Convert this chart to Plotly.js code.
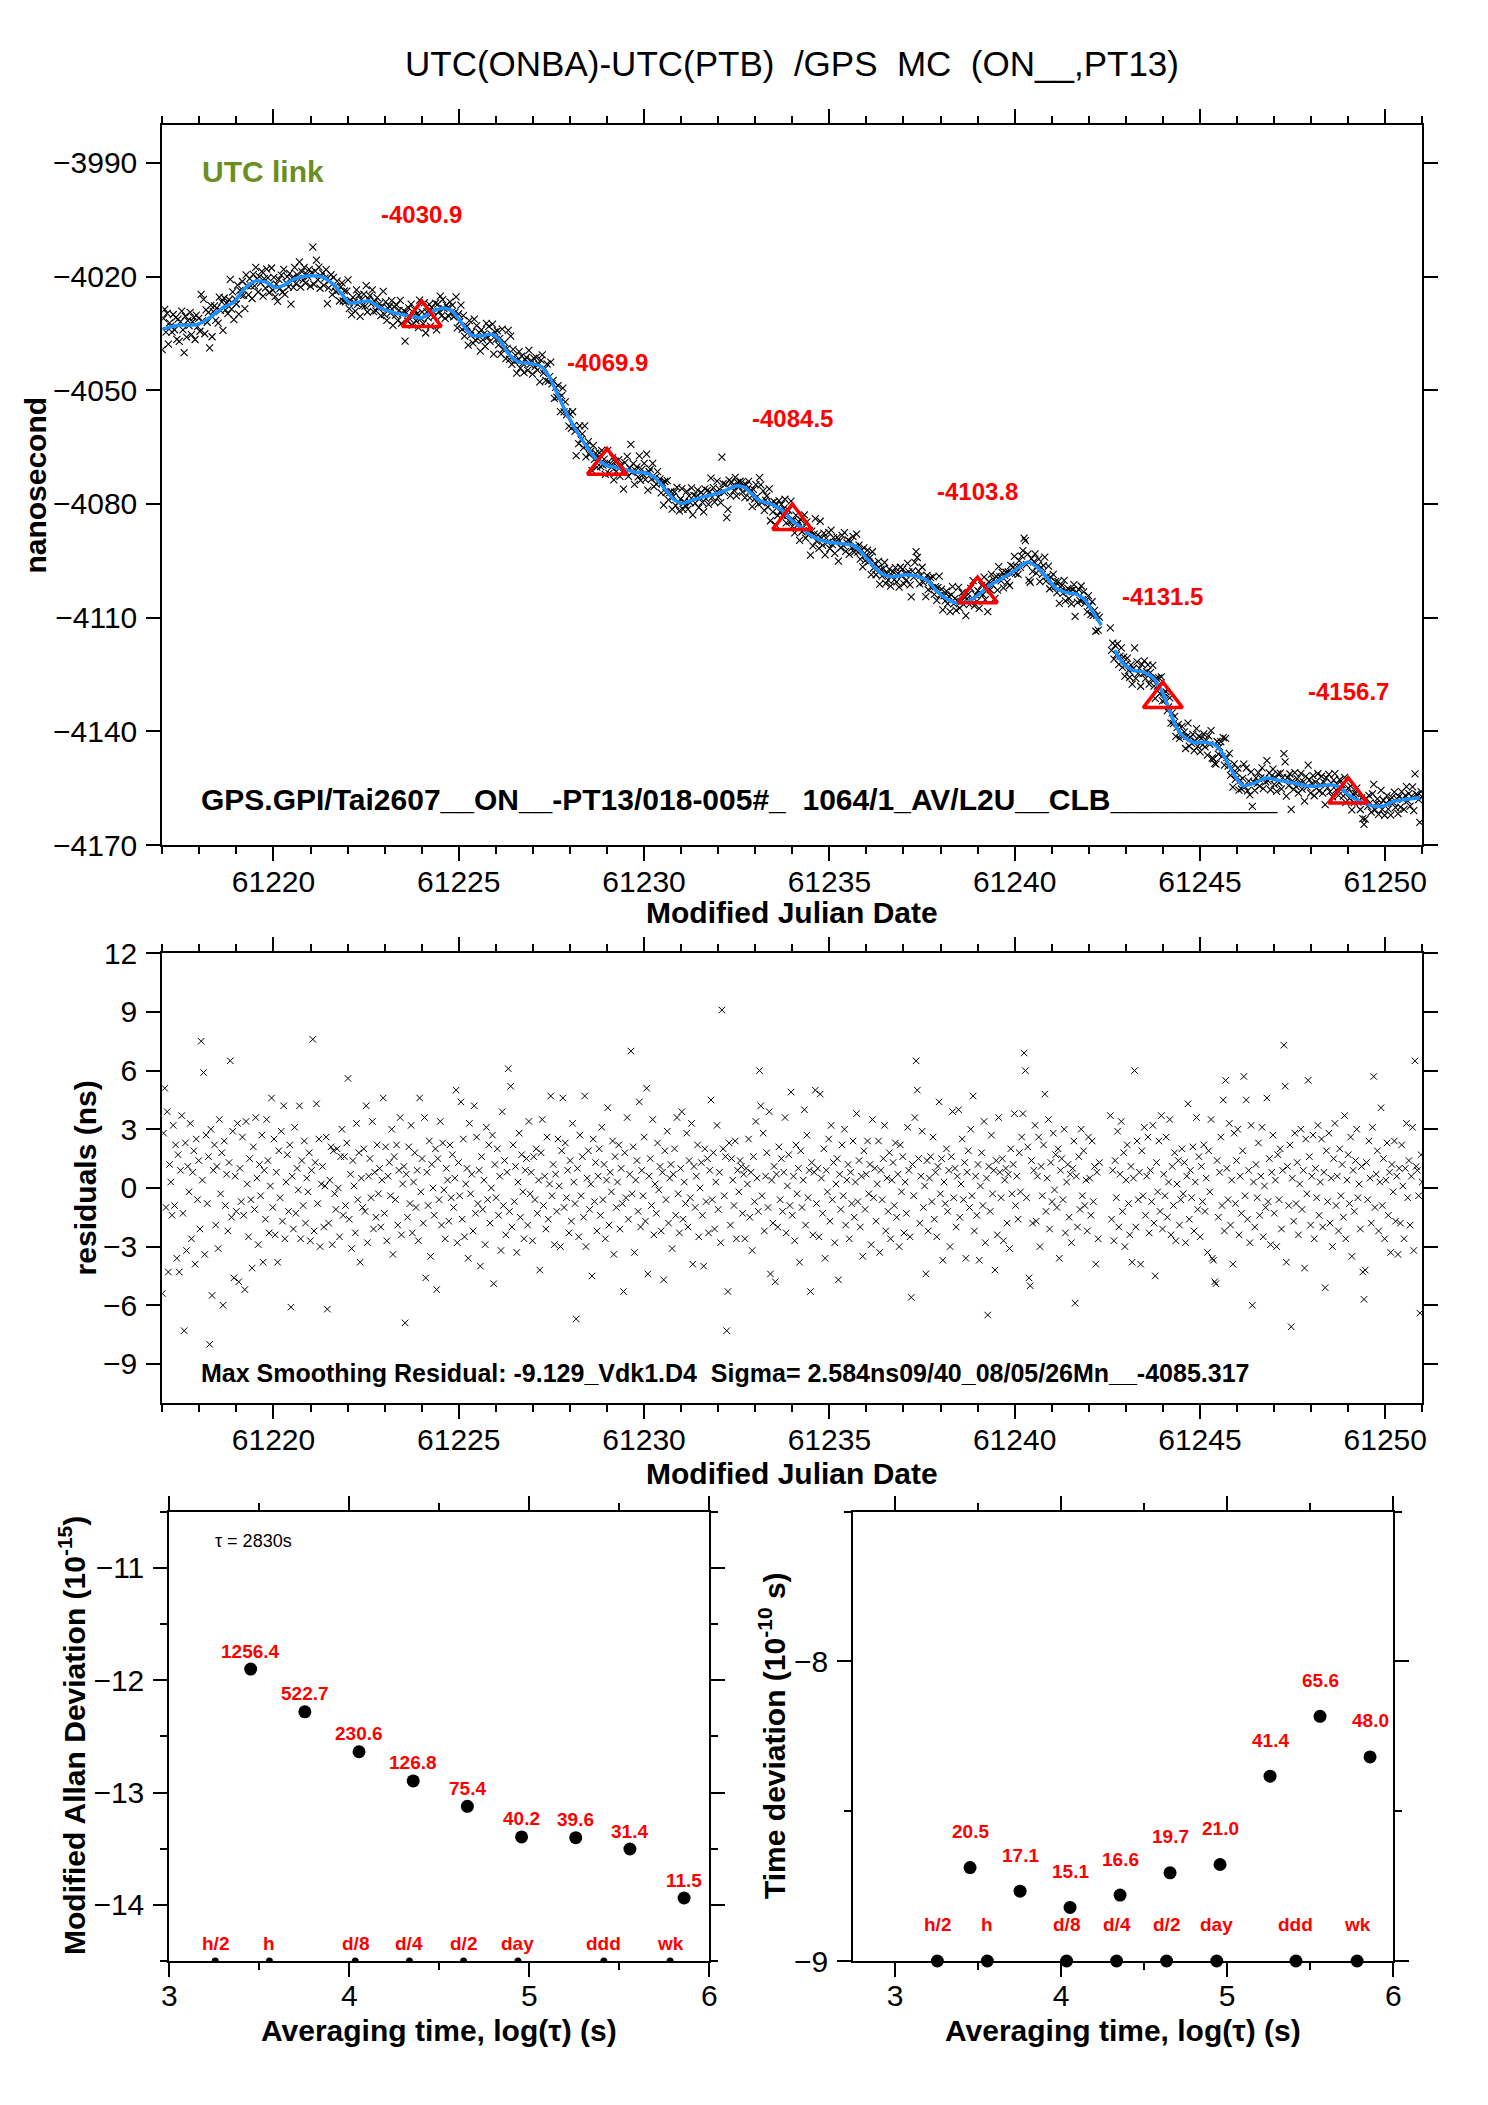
<!DOCTYPE html>
<html><head><meta charset="utf-8">
<script src="https://cdn.plot.ly/plotly-3.0.1.min.js"></script>
<style>html,body{margin:0;padding:0;background:#fff}#chart{width:1488px;height:2105px}</style>
</head><body><div id="chart"></div>
<script>
// ================= DATA =================
// sampling of the link (tau0 = 2830 s)
const firstSampleMjd = 61217.0;
const sampleStepSec = 2830;

// residuals (ns), one value per sample (null = no data)
const residualsNs = [
-5.4,2.8,5.1,-1.0,3.9,-4.3,1.2,0.3,-1.4,3.2,-0.9,2.2,-3.6,1.7,-4.3,0.9,3.7,-1.3,-7.3,2.3,-3.2,1.1,-0.2,3.3,-2.6,0.8,1.9,-3.9,2.5,-0.6,
1.4,-2.1,7.5,0.4,5.9,-3.4,2.7,-0.8,1.6,-8.0,3.0,-5.5,0.9,2.2,-1.9,1.1,-3.1,3.5,-0.3,1.8,-6.0,2.4,-0.9,0.7,-2.2,1.3,6.5,-1.5,2.9,-4.6,
0.6,-1.2,3.3,-4.8,1.0,-0.7,2.6,-1.4,-5.2,3.4,0.2,-2.5,1.5,-0.6,-4.1,2.1,-1.1,3.6,0.5,-2.9,1.2,-0.4,2.7,-3.8,0.9,-1.6,3.5,1.4,-2.3,0.1,
4.6,-1.0,2.5,-2.4,0.8,-3.8,1.9,-0.5,2.9,-1.7,4.2,-2.6,0.3,1.7,-1.2,2.2,-6.1,0.6,-2.1,3.1,-1.3,1.0,-0.1,4.2,-2.6,1.4,-0.9,2.4,-1.8,0.5,
-0.2,1.8,-2.7,0.9,7.6,-2.2,1.3,4.3,-0.8,2.5,-3.0,0.2,1.1,-2.0,0.1,2.6,-6.2,-1.8,0.4,2.1,-2.9,1.9,-0.3,-1.1,2.0,0.0,-2.5,1.6,3.0,-1.4,
1.6,-0.9,2.3,5.6,-1.6,0.7,-3.1,1.4,0.1,-2.3,3.3,-0.6,1.8,-3.8,0.5,-1.0,2.0,-1.2,4.2,-2.8,0.6,1.5,-0.5,3.4,-2.1,0.8,-1.5,2.2,-0.3,1.0,
-2.0,0.4,4.6,-1.3,2.1,-2.7,0.6,1.3,-0.4,3.0,-3.4,1.6,-0.6,2.2,-1.9,0.9,3.6,-2.4,0.2,1.1,-6.9,0.7,-1.5,2.1,-0.8,3.2,-2.3,0.3,1.8,-1.0,
0.9,-2.7,4.6,-0.2,1.5,-1.8,3.6,-4.6,0.8,-0.9,2.4,-3.5,1.2,0.0,-1.4,2.0,-5.2,1.5,-0.6,3.4,-1.9,2.3,-0.1,-2.6,1.0,0.4,-1.7,2.2,-0.5,1.7,
-1.0,0.5,5.0,-2.8,1.3,-0.4,4.4,-1.6,2.5,-2.5,0.2,1.0,-3.6,3.3,-0.3,0.7,-2.2,4.2,-1.3,2.6,-0.8,0.9,-4.0,1.6,-1.1,0.4,-2.9,3.1,-0.6,2.2,
-1.8,0.0,2.7,-4.9,1.2,-0.5,2.0,-1.4,0.6,-3.2,3.9,-0.9,1.4,-2.4,0.8,6.1,-1.2,5.2,-2.0,2.2,-0.7,1.1,-3.3,0.3,2.8,-1.5,1.7,-0.2,-2.6,0.9,
1.5,-1.9,3.4,-0.3,0.8,-2.7,1.6,-0.6,2.0,-1.3,0.4,-4.2,1.8,3.5,-0.9,0.6,-2.1,2.6,-1.6,0.2,4.7,-0.4,1.2,-2.9,0.7,-1.2,2.5,0.1,-3.0,1.9,
4.6,-1.0,2.3,-0.5,0.9,-2.3,1.4,-1.7,3.3,0.3,-0.8,-6.7,1.0,-2.5,2.7,-0.4,1.6,-1.5,4.7,-3.0,0.5,1.9,-1.1,0.2,-4.5,2.5,-0.7,1.3,-2.2,0.6,
2.0,-1.4,3.1,-0.6,1.2,-2.6,0.4,4.1,-1.9,0.8,-0.2,2.4,-3.4,1.6,-1.0,0.3,2.2,-2.1,1.0,-0.8,-5.3,1.8,-0.5,3.6,-1.6,0.7,7.0,-0.3,2.1,-3.3,
0.4,1.4,-1.2,4.4,-2.0,0.9,-0.4,2.6,-1.7,5.1,-4.4,0.6,1.5,-0.9,3.5,-2.4,0.2,-1.3,2.3,-0.1,1.1,-2.2,0.8,-4.7,1.9,-0.6,2.9,-1.8,0.5,1.2,
-3.1,0.7,2.0,-1.4,3.6,-0.3,-2.3,1.0,3.9,-1.6,0.3,-0.8,2.8,-2.0,1.4,-0.5,3.3,-3.9,1.1,-1.0,0.6,2.2,-2.5,0.0,1.3,-1.4,-4.0,2.0,-0.7,1.5,
-2.3,0.9,4.5,-0.6,1.8,-2.1,0.3,3.2,-1.1,0.8,-2.8,9.1,2.0,-0.4,1.6,-7.3,-5.3,2.3,-1.9,1.5,0.4,-0.9,2.4,-2.6,0.9,-0.2,1.4,1.1,-1.3,0.7,
-2.6,1.0,0.2,2.5,-1.5,0.8,-3.2,1.6,-0.7,3.4,0.5,-1.2,6.0,4.2,-0.4,2.8,-2.2,0.6,1.8,-1.0,3.9,-4.4,0.4,-1.8,1.1,-4.8,0.7,-2.0,2.1,-0.6,
1.5,-1.2,0.8,3.6,-2.3,0.1,1.7,-0.9,4.9,-1.4,0.6,-2.7,2.2,-0.3,1.0,-3.8,1.9,-1.0,0.4,4.0,-1.9,2.7,-0.5,0.9,-5.3,1.3,-2.4,0.8,5.0,-0.8,
1.0,-2.5,4.8,0.5,-1.3,2.0,-3.6,0.9,-0.2,2.5,-1.7,3.2,-0.6,1.3,-2.8,0.2,1.5,-4.7,0.7,-1.1,2.2,-0.4,3.0,-1.9,0.4,1.2,-2.6,0.8,-0.8,2.4,
-1.5,0.3,3.8,-0.7,1.4,-2.0,0.6,-3.5,1.9,-1.1,0.7,2.4,-0.3,1.2,-2.9,3.5,-0.5,1.0,-1.7,0.2,2.4,-3.3,0.9,-0.6,1.5,3.2,-2.2,0.5,-1.2,1.8,
-2.6,0.4,1.3,-0.9,2.3,-1.5,0.7,-3.0,2.2,-0.2,1.6,-2.3,0.3,-1.3,3.1,0.9,-2.5,-5.6,1.2,-0.4,3.6,6.5,5.0,1.5,-1.8,0.6,2.9,-1.0,0.1,-4.4,
1.4,-2.2,0.5,1.6,-0.7,2.6,-1.6,0.8,-2.5,1.1,4.4,-0.3,1.5,-3.7,0.3,-0.8,2.0,-1.2,0.9,-3.0,1.6,3.9,-0.5,1.0,-2.0,0.6,4.0,-1.5,0.2,2.5,
-0.6,1.3,-3.6,0.8,1.9,-1.0,3.0,-0.4,4.7,-2.2,0.6,-1.4,1.2,-3.7,0.1,1.8,-0.9,3.4,-2.8,0.5,-6.5,1.1,-1.2,2.7,-0.3,0.9,-4.2,1.4,-2.4,3.6,
0.8,-0.5,1.5,-2.7,0.4,1.0,-1.8,0.7,-3.1,2.0,-0.3,1.2,3.8,-0.9,0.6,-1.6,1.8,-0.2,2.6,3.8,6.9,6.0,-0.5,2.1,-4.6,-5.0,1.4,-1.8,0.9,3.2,
-1.7,0.6,2.6,-3.0,1.1,-0.4,2.2,4.8,-1.2,0.5,3.5,-2.1,1.3,-0.7,2.8,-0.1,1.7,-1.0,2.0,-3.6,0.9,1.5,-0.6,3.0,-2.3,0.3,1.2,-1.5,0.7,-2.8,
1.0,2.4,-5.9,0.6,-2.0,1.6,-1.1,3.0,-0.4,1.9,-0.9,0.4,-2.2,2.6,0.5,-1.4,2.4,-0.7,1.1,-3.9,0.8,-2.6,1.3,null,null,null,null,null,null,null,
null,3.7,-1.6,0.9,-2.7,1.4,-0.5,2.9,-2.0,0.7,3.4,-1.2,1.8,-3.0,0.4,2.2,-0.8,-2.4,1.1,-3.8,0.5,6.0,-2.0,2.4,-0.6,0.8,-3.9,1.9,-0.4,3.1,
-1.4,0.6,2.6,-2.3,0.9,-0.7,3.2,-1.8,-4.5,1.3,-0.2,2.4,-1.2,3.7,-2.1,0.7,-0.4,2.6,-1.5,0.3,3.5,-2.4,1.1,-0.9,1.8,-2.7,0.2,1.4,-1.9,-0.6,
2.0,-0.3,1.3,-2.8,0.6,4.3,-1.6,0.9,-0.5,2.1,-2.2,0.3,3.6,-1.1,1.6,-2.5,1.1,-0.7,2.2,-1.2,0.5,-3.3,1.9,-0.2,3.5,-3.6,-3.7,-4.8,-4.9,1.4,
-1.5,0.8,2.6,-0.9,4.5,-2.2,5.5,1.0,-0.6,3.3,-1.9,0.4,-3.9,2.8,-0.8,1.4,3.0,-2.4,0.6,-1.3,1.9,5.7,-0.4,4.5,-1.6,0.9,-2.8,3.2,-6.0,0.3,
-2.0,1.2,-0.5,2.3,-1.4,0.6,3.1,-2.5,0.1,-1.0,4.6,-0.7,1.5,-2.9,0.8,2.7,-1.3,0.4,-3.0,1.7,-0.6,2.0,-2.1,0.9,7.3,5.2,-3.8,1.1,-0.9,2.2,
-7.1,0.5,-1.7,2.8,-0.8,1.3,-2.4,0.2,3.0,-1.1,0.9,-4.1,2.5,-0.3,5.5,1.6,-1.9,0.6,2.7,-2.6,1.0,-0.5,3.2,-1.4,0.3,2.5,-2.0,0.8,-5.1,1.9,
-0.7,2.8,-1.8,0.5,-3.0,1.5,3.3,-0.9,0.6,-2.2,2.0,-0.4,1.2,-1.5,3.7,-2.6,0.4,1.7,-0.8,2.6,-3.5,0.9,-1.2,1.4,3.0,-0.5,0.2,-2.1,1.1,-4.3,
-5.7,-4.2,1.3,-0.6,2.4,0.5,-1.8,3.1,5.7,-1.0,0.7,1.9,-2.2,0.3,4.1,-0.9,1.5,-2.6,0.4,2.3,-1.4,0.8,-3.3,1.2,-0.2,2.4,-1.7,0.6,-3.4,1.0,
-1.8,2.2,0.1,-2.6,1.0,3.3,-0.5,1.4,-1.9,0.6,3.1,-3.2,6.5,1.1,0.9,-0.4,-6.4,1.7,0.3
];

// smoothed curve (blue)
const smoothMjd = [61217.0,61217.47,61217.92,61218.1,61218.37,61218.64,61218.95,61219.13,61219.36,61219.54,61219.81,61220.04,61220.26,61220.53,61220.8,61221.07,61221.34,61221.61,61221.84,61222.06,61222.33,61222.6,61222.87,61223.23,61223.68,61224.0,61224.3,61224.59,61224.81,61225.04,61225.31,61225.58,61225.9,61226.12,61226.35,61226.62,61226.93,61227.2,61227.43,61227.65,61227.88,61228.1,61228.3,61228.41,61228.68,61229.0,61229.4,61229.77,61230.12,61230.35,61230.58,61230.8,61231.03,61231.3,61231.57,61231.88,61232.2,61232.51,61232.74,61232.92,61233.1,61233.46,61233.77,61234.0,61234.22,61234.54,61234.9,61235.26,61235.62,61235.89,61236.16,61236.43,61236.7,61237.06,61237.42,61237.69,61237.87,61238.14,61238.41,61238.73,61239.0,61239.31,61239.67,61240.03,61240.35,61240.58,61240.85,61241.12,61241.4,61241.67,61241.89,61242.11,61242.34,61242.5,61242.7,61242.92,61243.19,61243.46,61243.73,61244.0,61244.18,61244.36,61244.59,61244.81,61245.17,61245.44,61245.62,61245.76,61245.94,61246.16,61246.43,61246.79,61247.15,61247.51,61247.87,61248.24,61248.51,61248.78,61249.0,61249.32,61249.68,61249.95,61250.22,61250.58,61250.94];
const smoothNs = [-4033.9,-4032.8,-4032.7,-4032.0,-4030.2,-4028.2,-4026.7,-4024.2,-4022.0,-4021.1,-4021.5,-4022.9,-4022.4,-4020.8,-4020.0,-4019.8,-4020.2,-4022.0,-4024.6,-4027.0,-4026.7,-4026.5,-4028.2,-4029.5,-4030.4,-4030.9,-4029.2,-4028.3,-4029.0,-4031.7,-4035.2,-4035.7,-4035.2,-4037.0,-4040.5,-4042.6,-4042.9,-4043.6,-4046.2,-4050.7,-4055.5,-4059.5,-4062.6,-4064.3,-4067.8,-4069.9,-4070.7,-4071.6,-4072.0,-4073.6,-4076.2,-4078.8,-4079.9,-4079.0,-4078.2,-4077.5,-4076.4,-4075.2,-4075.8,-4077.5,-4079.0,-4080.2,-4082.0,-4084.5,-4086.0,-4088.6,-4089.9,-4090.4,-4090.8,-4093.0,-4096.1,-4098.5,-4099.2,-4098.7,-4099.2,-4100.5,-4102.7,-4104.9,-4106.1,-4105.8,-4104.2,-4101.6,-4099.6,-4097.4,-4095.3,-4096.5,-4099.2,-4102.3,-4103.4,-4103.8,-4105.3,-4108.5,-4112.0,null,-4118.6,-4122.1,-4123.9,-4124.3,-4125.8,-4130.0,-4134.5,-4138.9,-4141.6,-4142.9,-4142.9,-4143.8,-4146.0,-4148.6,-4151.7,-4154.4,-4153.8,-4152.3,-4153.0,-4153.6,-4154.4,-4154.4,-4154.1,-4154.8,-4156.7,-4158.5,-4159.7,-4159.7,-4158.5,-4157.9,-4157.6];

// red triangle markers (daily values)
const markerMjd = [61224, 61229, 61234, 61239, 61244, 61249];
const markerNs = [-4030.9, -4069.9, -4084.5, -4103.8, -4131.5, -4156.7];

// stability analysis
const logTau = [3.452, 3.753, 4.054, 4.355, 4.656, 4.957, 5.258, 5.559, 5.860];
const mdevE15 = [1256.4, 522.7, 230.6, 126.8, 75.4, 40.2, 39.6, 31.4, 11.5];
const tdevE10 = [20.5, 17.1, 15.1, 16.6, 19.7, 21.0, 41.4, 65.6, 48.0];
const refLogTau = [3.255, 3.556, 4.033, 4.334, 4.635, 4.937, 5.414, 5.782];
const refLabels = ['h/2', 'h', 'd/8', 'd/4', 'd/2', 'day', 'ddd', 'wk'];

// texts
const mainTitle = 'UTC(ONBA)-UTC(PTB)  /GPS  MC  (ON__,PT13)';
const linkLabel = 'UTC link';
const fileLabel = 'GPS.GPI/Tai2607__ON__-PT13/018-005#_  1064/1_AV/L2U__CLB__________';
const residLabel = 'Max Smoothing Residual: -9.129_Vdk1.D4  Sigma= 2.584ns09/40_08/05/26Mn__-4085.317';
const tauLabel = '\u03c4 = 2830s';

// ================= DERIVED =================
const stepDays = sampleStepSec / 86400;
const sampleMjd = residualsNs.map((_, i) => firstSampleMjd + i * stepDays);
const kx = [], ky = [];
smoothMjd.forEach((m, i) => { if (smoothNs[i] !== null) { kx.push(m); ky.push(smoothNs[i]); } });
function fitAt(m) {
  if (m <= kx[0]) return ky[0];
  for (let i = 1; i < kx.length; i++) {
    if (m <= kx[i]) { const t = (m - kx[i-1]) / (kx[i] - kx[i-1]); return ky[i-1] + t * (ky[i] - ky[i-1]); }
  }
  return ky[ky.length - 1];
}
// measured data = smoothing fit + residual
const dataNs = residualsNs.map((r, i) => r === null ? null : fitAt(sampleMjd[i]) + r);
const mdevLog = mdevE15.map(v => Math.log10(v) - 15);
const tdevLog = tdevE10.map(v => Math.log10(v) - 10);

// ================= LAYOUT =================
const W = 1488, H = 2105;
const px = p => p / W;
const py = p => 1 - p / H;
const FONT = 'Liberation Sans, Arial, Helvetica, sans-serif';
const nb = s => s.replace(/ /g, '\u00a0');

const minorX = (d) => ({dtick: d, ticklen: 7, tickwidth: 2, tickcolor: 'black', ticks: 'outside'});
function ax(extra) {
  return Object.assign({
    showline: true, linecolor: 'black', linewidth: 2, mirror: 'allticks',
    ticks: 'outside', ticklen: 14, tickwidth: 2, tickcolor: 'black',
    showgrid: false, zeroline: false, fixedrange: true,
    tickfont: {family: FONT, size: 30, color: 'black'}
  }, extra);
}

const topX = [px(162.3), px(1422.3)];
const layout = {
  width: W, height: H,
  margin: {l: 0, r: 0, t: 0, b: 0},
  paper_bgcolor: 'white', plot_bgcolor: 'white',
  showlegend: false,
  title: {text: nb(mainTitle), x: px(792), xanchor: 'center', xref: 'paper', y: py(64), yanchor: 'middle', yref: 'paper',
          font: {family: FONT, size: 35, color: 'black'}},
  xaxis: ax({domain: topX, anchor: 'y', range: [61217, 61251], tick0: 61215, dtick: 5, tickformat: 'd', minor: minorX(1), ticklabelstandoff: -5}),
  yaxis: ax({domain: [py(845), py(125)], anchor: 'x', range: [-4170, -3980], tick0: -3990, dtick: 30, tickformat: 'd', ticklabelstandoff: 3}),
  xaxis2: ax({domain: topX, anchor: 'y2', range: [61217, 61251], tick0: 61215, dtick: 5, tickformat: 'd', minor: minorX(1), ticklabelstandoff: -5}),
  yaxis2: ax({domain: [py(1403), py(953.3)], anchor: 'x2', range: [-11, 12], tick0: 0, dtick: 3, tickformat: 'd', ticklabelstandoff: 3}),
  xaxis3: ax({domain: [px(169.3), px(709.3)], anchor: 'y3', range: [3, 6], tick0: 3, dtick: 1, minor: minorX(0.5), ticklabelstandoff: -7}),
  yaxis3: ax({domain: [py(1961), py(1511.7)], anchor: 'x3', range: [-14.5, -10.5], tick0: -11, dtick: 1, minor: minorX(0.5), ticklabelstandoff: 3}),
  xaxis4: ax({domain: [px(853.3), px(1393.3)], anchor: 'y4', range: [2.749, 6], tick0: 3, dtick: 1, minor: minorX(0.5), ticklabelstandoff: -7}),
  yaxis4: ax({domain: [py(1961), py(1511.7)], anchor: 'x4', range: [-9, -7.5], tick0: -9, dtick: 1, minor: minorX(0.5), ticklabelstandoff: 3}),
  annotations: []
};

const A = layout.annotations;
function paperText(text, x, y, font, opts) {
  A.push(Object.assign({text: text, xref: 'paper', yref: 'paper', x: px(x), y: py(y), showarrow: false,
    xanchor: 'center', yanchor: 'middle', font: Object.assign({family: FONT, color: 'black'}, font)}, opts || {}));
}
// axis titles
paperText('<b>nanosecond</b>', 34.6, 485, {size: 30}, {textangle: -90});
paperText('<b>Modified Julian Date</b>', 792.3, 912, {size: 30});
paperText('<b>residuals (ns)</b>', 85.4, 1178, {size: 30}, {textangle: -90});
paperText('<b>Modified Julian Date</b>', 792.3, 1473, {size: 30});
paperText('<b>Modified Allan Deviation (10<sup>-15</sup>)</b>', 72, 1736, {size: 30}, {textangle: -90});
paperText('<b>Time deviation (10<sup>-10</sup> s)</b>', 772, 1736, {size: 30}, {textangle: -90});
paperText('<b>Averaging time, log(\u03c4) (s)</b>', 439.3, 2030, {size: 30});
paperText('<b>Averaging time, log(\u03c4) (s)</b>', 1123.3, 2030, {size: 30});
// in-plot texts
paperText('<b>' + linkLabel + '</b>', 199.5, 171.7, {size: 30, color: '#6B8E23'}, {xanchor: 'left'});
paperText('<b>' + nb(fileLabel) + '</b>', 199, 799, {size: 30}, {xanchor: 'left'});
paperText('<b>' + nb(residLabel) + '</b>', 199, 1373, {size: 25}, {xanchor: 'left'});
paperText(tauLabel, 213, 1541, {size: 18}, {xanchor: 'left'});

// data-anchored labels
markerMjd.forEach((m, i) => A.push({text: '<b>' + markerNs[i].toFixed(1) + '</b>', xref: 'x', yref: 'y', x: m, y: markerNs[i],
  yshift: 103, showarrow: false, xanchor: 'center', yanchor: 'middle', font: {family: FONT, size: 24, color: 'red'}}));
logTau.forEach((t, i) => A.push({text: '<b>' + mdevE15[i].toFixed(1) + '</b>', xref: 'x3', yref: 'y3', x: t, y: mdevLog[i],
  yshift: 18, showarrow: false, xanchor: 'center', yanchor: 'middle', font: {family: FONT, size: 19, color: 'red'}}));
logTau.forEach((t, i) => A.push({text: '<b>' + tdevE10[i].toFixed(1) + '</b>', xref: 'x4', yref: 'y4', x: t, y: tdevLog[i],
  yshift: 36, showarrow: false, xanchor: 'center', yanchor: 'middle', font: {family: FONT, size: 19, color: 'red'}}));
refLogTau.forEach((t, i) => {
  A.push({text: '<b>' + refLabels[i] + '</b>', xref: 'x3', yref: 'y3', x: t, y: -14.5, yshift: 18, showarrow: false,
    xanchor: 'center', yanchor: 'middle', font: {family: FONT, size: 19, color: 'red'}});
  A.push({text: '<b>' + refLabels[i] + '</b>', xref: 'x4', yref: 'y4', x: t, y: -9, yshift: 37, showarrow: false,
    xanchor: 'center', yanchor: 'middle', font: {family: FONT, size: 19, color: 'red'}});
});

// ================= TRACES =================
const xMarkTop = {symbol: 'x-thin', size: 7, color: 'black', line: {width: 1.1, color: 'black'}};
const xMark = {symbol: 'x-thin', size: 6.5, color: 'black', line: {width: 1, color: 'black'}};
const traces = [
  {type: 'scatter', mode: 'markers', x: sampleMjd, y: dataNs, xaxis: 'x', yaxis: 'y', marker: xMarkTop, hoverinfo: 'skip'},
  {type: 'scatter', mode: 'lines', x: smoothMjd, y: smoothNs, xaxis: 'x', yaxis: 'y', connectgaps: false,
   line: {color: '#1E90FF', width: 3.5, shape: 'spline', smoothing: 0.6}, hoverinfo: 'skip'},
  {type: 'scatter', mode: 'markers', x: markerMjd, y: markerNs, xaxis: 'x', yaxis: 'y',
   marker: {symbol: 'triangle-up-open', size: 34, color: 'red', line: {width: 3.5, color: 'red'}}, hoverinfo: 'skip'},
  {type: 'scatter', mode: 'markers', x: sampleMjd, y: residualsNs, xaxis: 'x2', yaxis: 'y2', marker: xMark, hoverinfo: 'skip'},
  {type: 'scatter', mode: 'markers', x: logTau, y: mdevLog, xaxis: 'x3', yaxis: 'y3',
   marker: {symbol: 'circle', size: 13, color: 'black'}, hoverinfo: 'skip'},
  {type: 'scatter', mode: 'markers', x: refLogTau, y: refLogTau.map(() => -14.5), xaxis: 'x3', yaxis: 'y3',
   marker: {symbol: 'circle', size: 7, color: 'black'}, hoverinfo: 'skip'},
  {type: 'scatter', mode: 'markers', x: logTau, y: tdevLog, xaxis: 'x4', yaxis: 'y4',
   marker: {symbol: 'circle', size: 13, color: 'black'}, hoverinfo: 'skip'},
  {type: 'scatter', mode: 'markers', x: refLogTau, y: refLogTau.map(() => -9), xaxis: 'x4', yaxis: 'y4', cliponaxis: false,
   marker: {symbol: 'circle', size: 13, color: 'black'}, hoverinfo: 'skip'}
];

Plotly.newPlot('chart', traces, layout, {staticPlot: true, displayModeBar: false});
</script>
</body></html>
